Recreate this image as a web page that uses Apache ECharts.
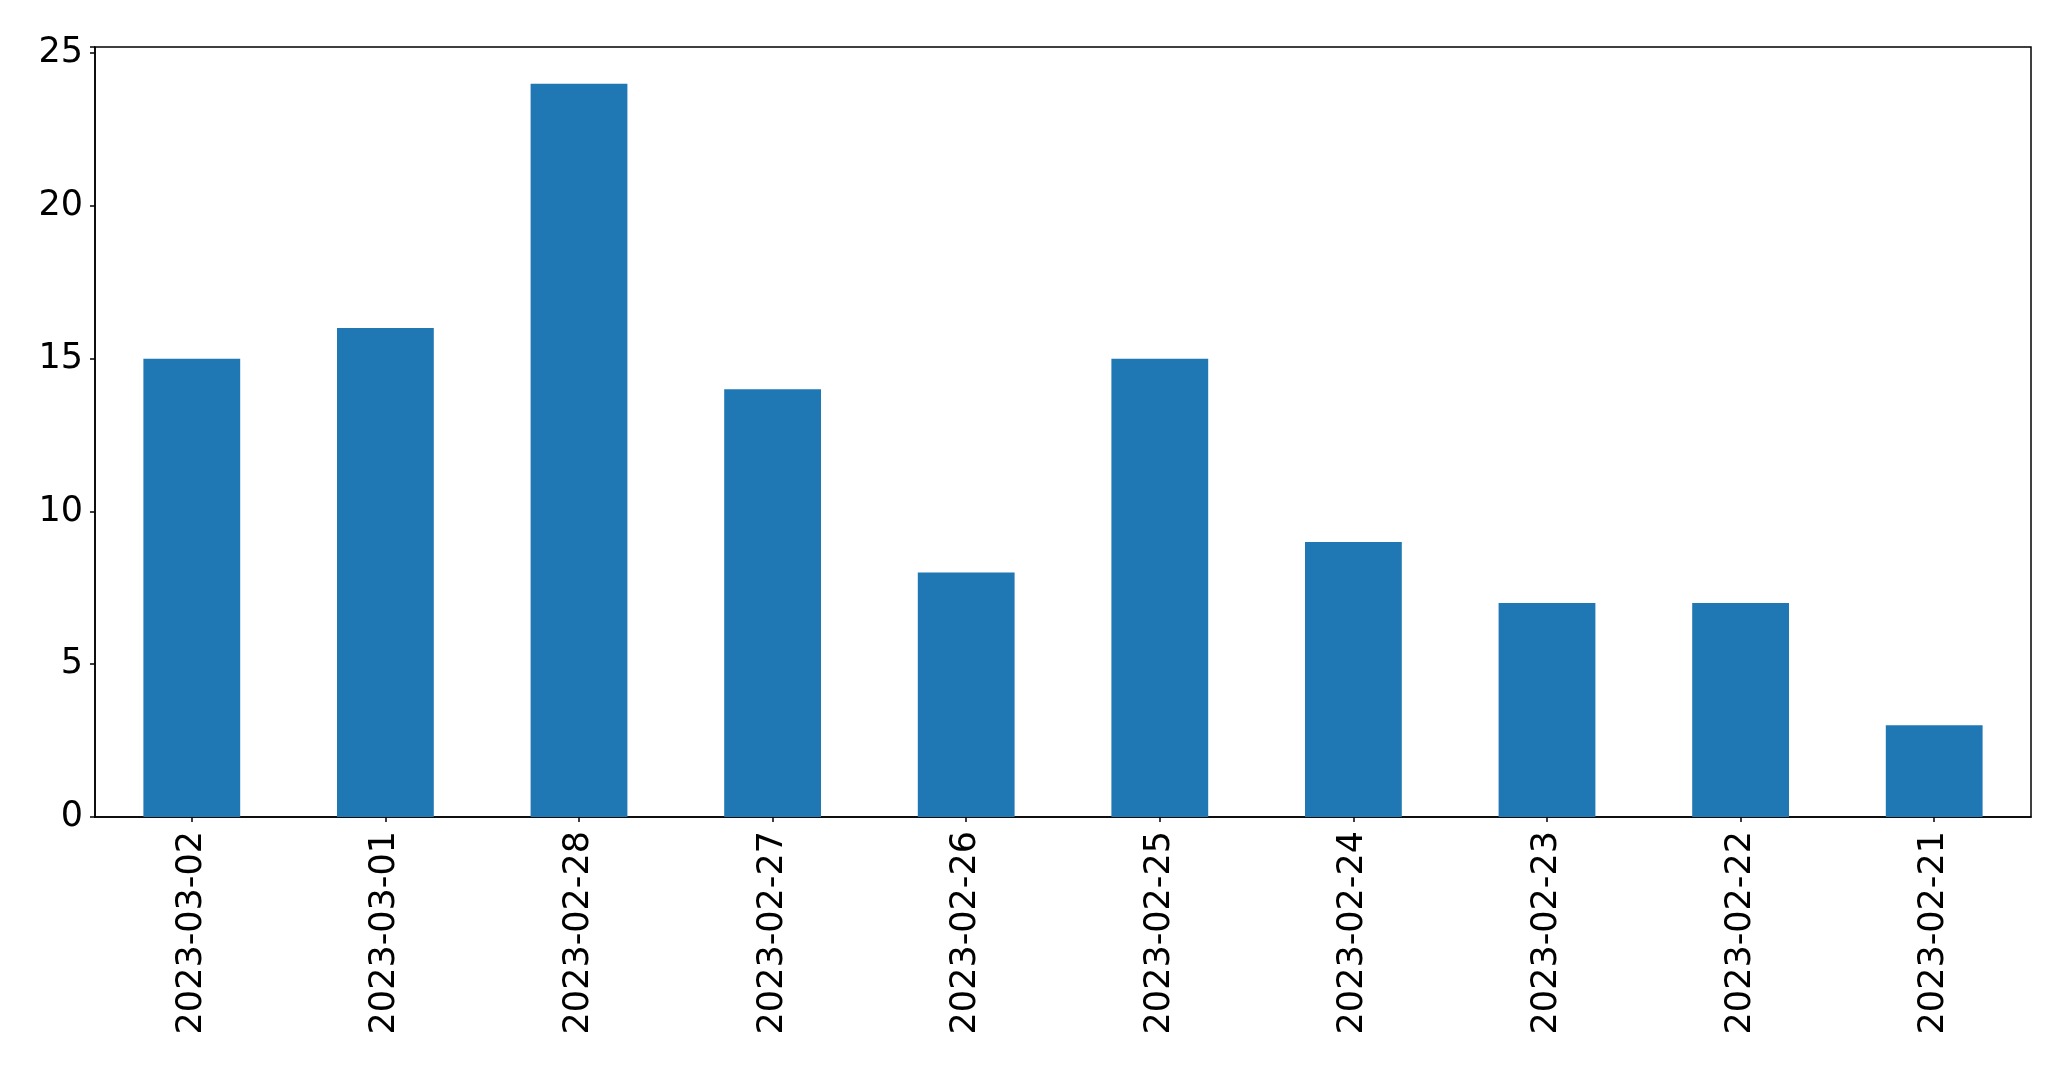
<!DOCTYPE html>
<html>
<head>
<meta charset="utf-8">
<script src="https://cdn.jsdelivr.net/npm/echarts@6/dist/echarts.min.js"></script>
<style>
html,body{margin:0;padding:0;background:#fff;}
#chart{width:2071px;height:1069px;}
</style>
</head>
<body>
<div id="chart"></div>
<script>
const categories = ['2023-03-02','2023-03-01','2023-02-28','2023-02-27','2023-02-26','2023-02-25','2023-02-24','2023-02-23','2023-02-22','2023-02-21'];
const values = [15, 16, 24, 14, 8, 15, 9, 7, 7, 3];
const yTicks = [0, 5, 10, 15, 20, 25];

const chart = echarts.init(document.getElementById('chart'), null, {renderer: 'canvas'});
const font = 'DejaVu Sans';
chart.setOption({
  animation: false,
  backgroundColor: '#ffffff',
  grid: {left: 95, right: 40, top: 47, bottom: 252, show: true, borderColor: '#000', borderWidth: 1.5, containLabel: false},
  xAxis: {
    type: 'category',
    data: categories,
    boundaryGap: true,
    axisLine: {show: true, lineStyle: {color: '#000', width: 1.5}},
    axisTick: {show: true, alignWithLabel: true, length: 5, lineStyle: {color: '#000', width: 1.5}},
    axisLabel: {rotate: 90, margin: 14, fontFamily: font, fontSize: 35, color: '#000', interval: 0},
    splitLine: {show: false}
  },
  yAxis: {
    type: 'value',
    min: 0,
    max: 25.2,
    interval: 5,
    axisLine: {show: true, lineStyle: {color: '#000', width: 1.5}},
    axisTick: {show: true, length: 5, lineStyle: {color: '#000', width: 1.5}},
    axisLabel: {margin: 12, fontFamily: font, fontSize: 35, color: '#000',
      formatter: v => yTicks.includes(v) ? String(v) : ''},
    splitLine: {show: false}
  },
  series: [{
    type: 'bar',
    data: values,
    barWidth: '50%',
    itemStyle: {color: '#1f77b4'}
  }]
});
</script>
</body>
</html>
